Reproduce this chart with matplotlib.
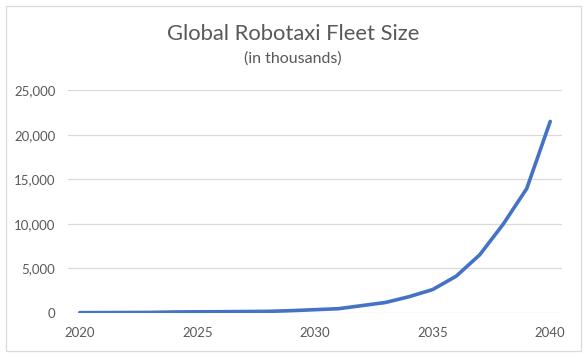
import matplotlib
matplotlib.use("Agg")
import matplotlib.pyplot as plt
from matplotlib.patches import Rectangle
from matplotlib.ticker import FuncFormatter

# fleet size in thousands
years = list(range(2020, 2041))
fleet = [5, 10, 20, 30, 80, 100, 110, 130, 150, 230, 340,
         450, 800, 1150, 1800, 2600, 4100, 6500, 9950, 13950, 21500]
xticks = [2020, 2025, 2030, 2035, 2040]
yticks = [0, 5000, 10000, 15000, 20000, 25000]

plt.rcParams['font.family'] = ['Lato', 'DejaVu Sans']
txt = '#595959'

fig = plt.figure(figsize=(5.86, 3.58), dpi=100)
ax = fig.add_axes([68 / 586, 1 - 312.7 / 358, (562 - 68) / 586, (312.7 - 90.3) / 358])

ax.plot(years, fleet, color='#4472C4', linewidth=2.6, solid_capstyle='round', zorder=3)

ax.set_xlim(2019.5, 2040.5)
ax.set_ylim(0, 25000)
ax.set_xticks(xticks)
ax.set_yticks(yticks)
ax.yaxis.set_major_formatter(FuncFormatter(lambda v, p: f'{int(v):,}'))
ax.grid(axis='y', color='#D9D9D9', linewidth=0.9)
ax.set_axisbelow(True)
for s in ax.spines.values():
    s.set_visible(False)
ax.tick_params(length=0, labelsize=9.5, labelcolor=txt)
ax.tick_params(axis='y', pad=9)
ax.tick_params(axis='x', pad=10)

fig.text(0.5, 1 - 34 / 358, 'Global Robotaxi Fleet Size', ha='center', va='center',
         fontsize=15.8, color=txt)
fig.text(0.5, 1 - 59 / 358, '(in thousands)', ha='center', va='center',
         fontsize=11.5, color=txt)

# chart border
fig.patches.append(Rectangle((5.5 / 586, 1 - 350.5 / 358), 575 / 586, 344.5 / 358,
                             transform=fig.transFigure, fill=False,
                             edgecolor='#D9D9D9', linewidth=0.9))

fig.savefig('out.png', dpi=100)
